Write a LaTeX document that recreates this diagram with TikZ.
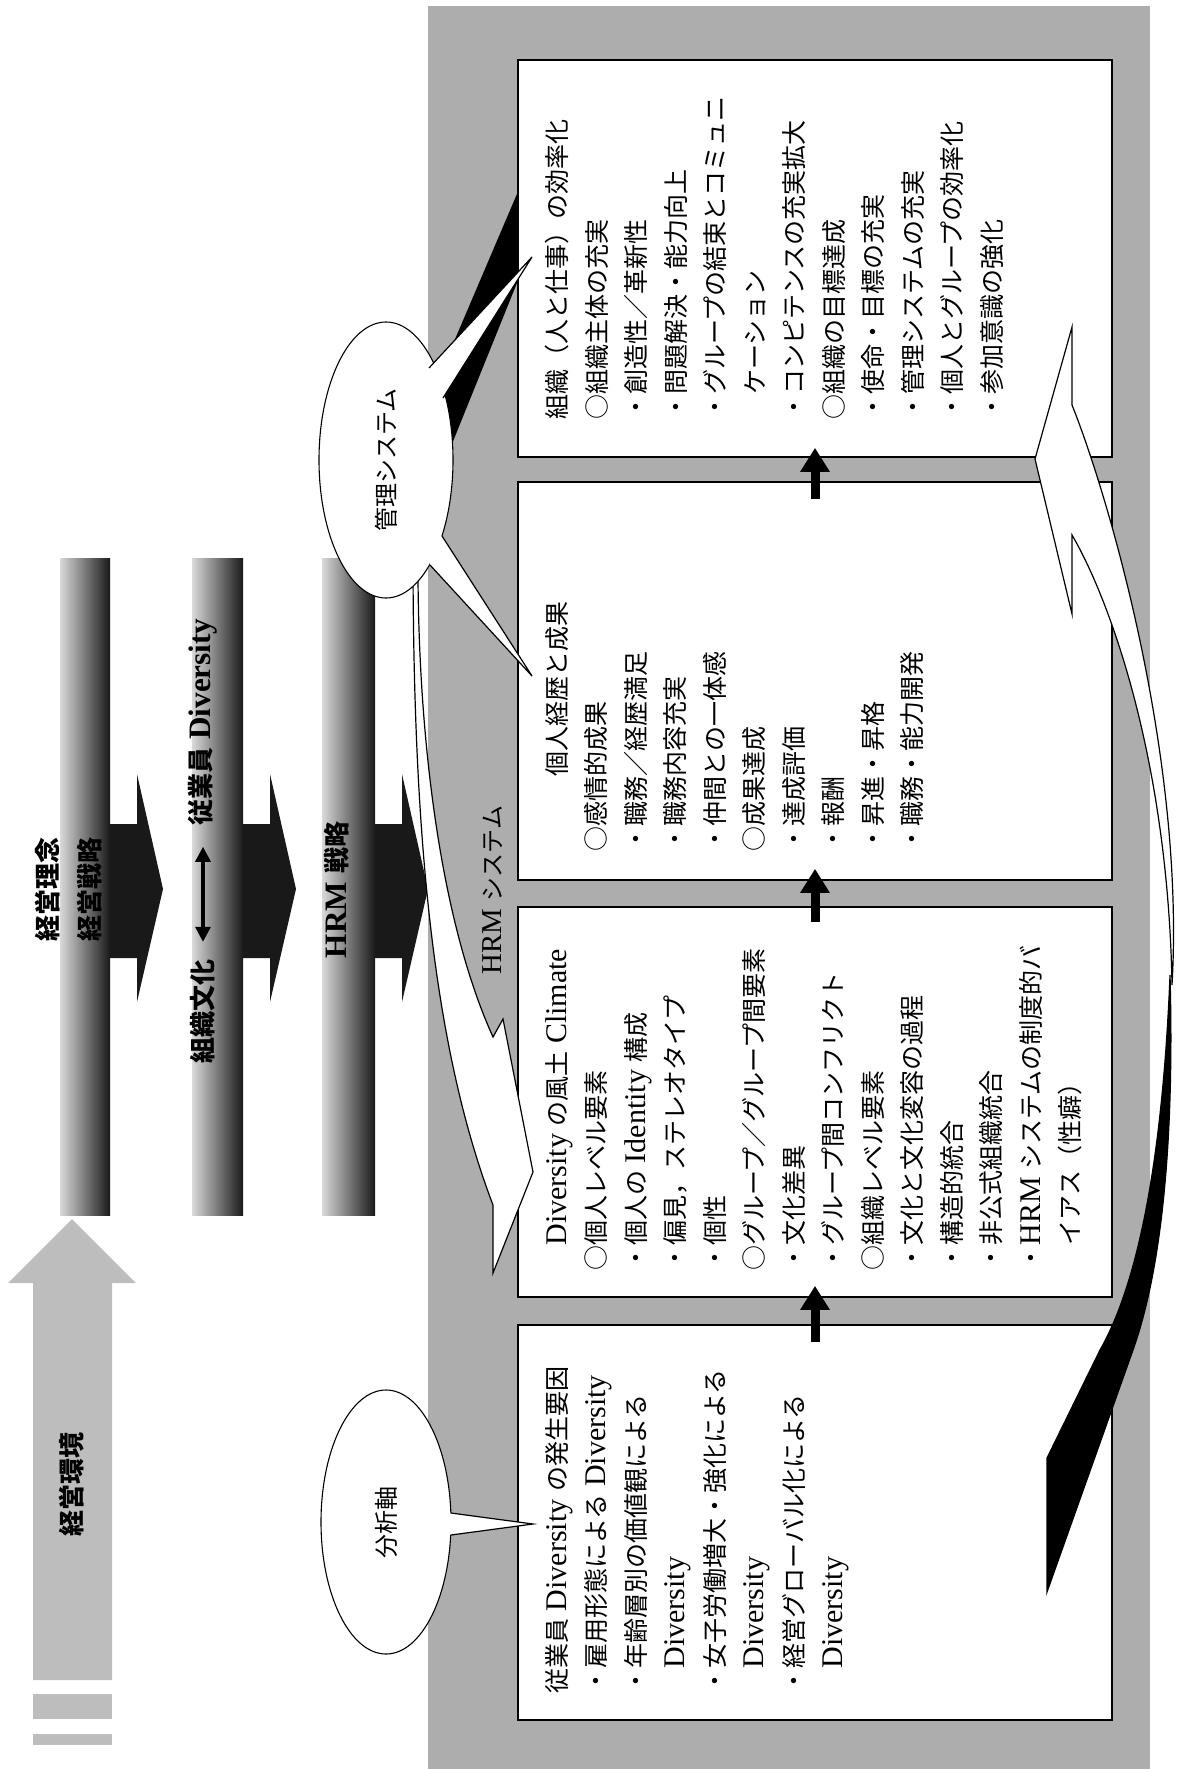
\documentclass[tikz,border=0pt]{standalone}
\usepackage{fontspec}
\setmainfont{Liberation Serif}[Scale=1.2]
\newfontfamily\cjk{Noto Sans CJK JP}
\usetikzlibrary{arrows.meta,shapes.geometric,calc}
\newcommand\J[1]{{\cjk #1}}
\definecolor{bg}{gray}{0.68}
\definecolor{envgray}{gray}{0.74}
\begin{document}
\begin{tikzpicture}[x=1pt,y=-1pt,
  box/.style={draw=black, line width=1.6pt, fill=white, rectangle, inner sep=0pt},
  boxtext/.style={rotate=90, anchor=north west, align=left, inner sep=0pt, font=\fontsize{25pt}{39.5pt}\selectfont},
  lbl/.style={rotate=90, inner sep=0pt, font=\fontsize{26pt}{30pt}\selectfont\bfseries},
  bubble/.style={ellipse, draw=black, line width=1.1pt, fill=white, rotate=90, inner sep=0pt, font=\fontsize{24pt}{28pt}\selectfont},
  flow/.style={line width=9pt, -{Triangle[length=24pt,width=28pt]}},
  outl/.style={draw=black, line width=1.2pt, line join=miter},
]
\useasboundingbox (0,0) rectangle (1178,1769);
\fill[bg] (428,6) rectangle (1150,1769);

% shaded bands with block arrows
\foreach \l/\r in {60/110, 192/243, 322/375} {
  \shade[left color=black!15, right color=black!90] (\l,558) rectangle (\r,1215);
  \fill[black!90] (\r,824) -- (\r+27,824) -- (\r+27,774) -- (\r+53,889) -- (\r+27,1002) -- (\r+27,958) -- (\r,958) -- cycle;
}
\node[lbl] (rinen) at (48,889) {\J{経営理念}};
\node[lbl] (senryaku) at (90,889) {\J{経営戦略}};
\node[lbl] (soshiki) at (203,1011) {\J{組織文化}};
\node[lbl] (jugyo) at (203,722) {\J{従業員} Diversity};
\draw[line width=3.2pt, {Triangle[length=15pt,width=15pt]}-{Triangle[length=15pt,width=15pt]}, shorten <=17pt, shorten >=21pt] (soshiki) -- (jugyo);
\node[lbl] (hrmsen) at (337,890) {HRM \J{戦略}};

% environment arrow
\fill[envgray] (33,1680) -- (33,1283) -- (8,1283) -- (72,1219) -- (136,1283) -- (112,1283) -- (112,1680) -- cycle;
\fill[envgray] (33,1694) rectangle (112,1719);
\fill[envgray] (33,1734) rectangle (112,1745);
\node[lbl] (kankyo) at (72,1484) {\J{経営環境}};

% black back side of the left ribbon
\fill[black] (412,440) -- (540,140) -- (540,226) -- (435,486) -- cycle;

% boxes
\node[box, minimum width=594pt, minimum height=397pt] (b4) at (815,258.5) {};
\node[box, minimum width=594pt, minimum height=398pt] (b3) at (815,681) {};
\node[box, minimum width=594pt, minimum height=390pt] (b2) at (815,1102) {};
\node[box, minimum width=594pt, minimum height=395pt] (b1) at (815,1522.5) {};

\node[boxtext] (t4) at ([xshift=28pt,yshift=38pt]b4.south west) {%
\J{組織（人と仕事）の効率化}\\
\J{○組織主体の充実}\\
\J{・創造性／革新性}\\
\J{・問題解決・能力向上}\\
\J{・グループの結束とコミュニ}\\
\J{\hspace*{1em}ケーション}\\
\J{・コンピテンスの充実拡大}\\
\J{○組織の目標達成}\\
\J{・使命・目標の充実}\\
\J{・管理システムの充実}\\
\J{・個人とグループの効率化}\\
\J{・参加意識の強化}};

\node[boxtext] (t3) at ([xshift=28pt,yshift=29pt]b3.south west) {%
\J{\hspace*{3em}個人経歴と成果}\\
\J{○感情的成果}\\
\J{・職務／経歴満足}\\
\J{・職務内容充実}\\
\J{・仲間との一体感}\\
\J{○成果達成}\\
\J{・達成評価}\\
\J{・報酬}\\
\J{・昇進・昇格}\\
\J{・職務・能力開発}};

\node[boxtext] (t2) at ([xshift=28pt,yshift=27pt]b2.south west) {%
\J{\hspace*{1em}}Diversity \J{の風土} Climate\\
\J{○個人レベル要素}\\
\J{・個人の} Identity \J{構成}\\
\J{・偏見，ステレオタイプ}\\
\J{・個性}\\
\J{○グループ／グループ間要素}\\
\J{・文化差異}\\
\J{・グループ間コンフリクト}\\
\J{○組織レベル要素}\\
\J{・文化と文化変容の過程}\\
\J{・構造的統合}\\
\J{・非公式組織統合}\\
\J{・}HRM \J{システムの制度的バ}\\
\J{\hspace*{1em}イアス（性癖）}};

\node[boxtext] (t1) at ([xshift=28pt,yshift=27pt]b1.south west) {%
\J{従業員} Diversity \J{の発生要因}\\
\J{・雇用形態による} Diversity\\
\J{・年齢層別の価値観による}\\
\J{\hspace*{1em}}Diversity\\
\J{・女子労働増大・強化による}\\
\J{\hspace*{1em}}Diversity\\
\J{・経営グローバル化による}\\
\J{\hspace*{1em}}Diversity};

% flow arrows between boxes
\draw[flow] ([yshift=-18pt]b3.north) -- ([yshift=10pt]b4.south);
\draw[flow] ([yshift=-16pt]b2.north) -- ([yshift=12pt]b3.south);
\draw[flow] ([yshift=-18pt]b1.north) -- ([yshift=12pt]b2.south);

% right big ribbon arrow
\filldraw[fill=white, outl] (1035,459) -- (1072,327) -- (1072,405) .. controls (1110,500) and (1185,760) .. (1172,985) .. controls (1168,760) and (1110,600) .. (1072,535) -- (1072,614) -- cycle;
\filldraw[fill=black, outl] (1170,975) .. controls (1174,1120) and (1165,1260) .. (1133,1350) -- (1047,1592) -- (1047,1458) -- (1100,1350) .. controls (1140,1280) and (1163,1150) .. (1170,975) -- cycle;

% HRM system arrow (white)
\filldraw[fill=white, outl] (413,571) .. controls (414,820) and (430,1040) .. (493,1205) -- (493,1273) -- (533,1172) -- (503,1019) -- (493,1037) .. controls (440,920) and (419,740) .. (418,577) -- cycle;

% callouts
\node[bubble, minimum width=276pt, minimum height=134pt] (kanri) at (386,460) {\J{管理システム}};
\node[bubble, minimum width=264pt, minimum height=130pt] (bunseki) at (386,1522) {\J{分析軸}};
\fill[white] (429,368) -- (532,257) -- (443,398) -- (428,392) -- cycle;
\draw[outl] (429,368) -- (532,257) -- (443,398);
\fill[white] (442,536) -- (532,676) -- (430,565) -- (428,545) -- cycle;
\draw[outl] (442,536) -- (532,676) -- (430,565);
\fill[white] (451,1513) -- (533,1524) -- (451,1535) -- (440,1524) -- cycle;
\draw[outl] (451,1513) -- (533,1524) -- (451,1535);

\node[rotate=90, inner sep=0pt, font=\fontsize{24pt}{28pt}\selectfont] (hrmlbl) at (493,890) {HRM \J{システム}};
\end{tikzpicture}
\end{document}
